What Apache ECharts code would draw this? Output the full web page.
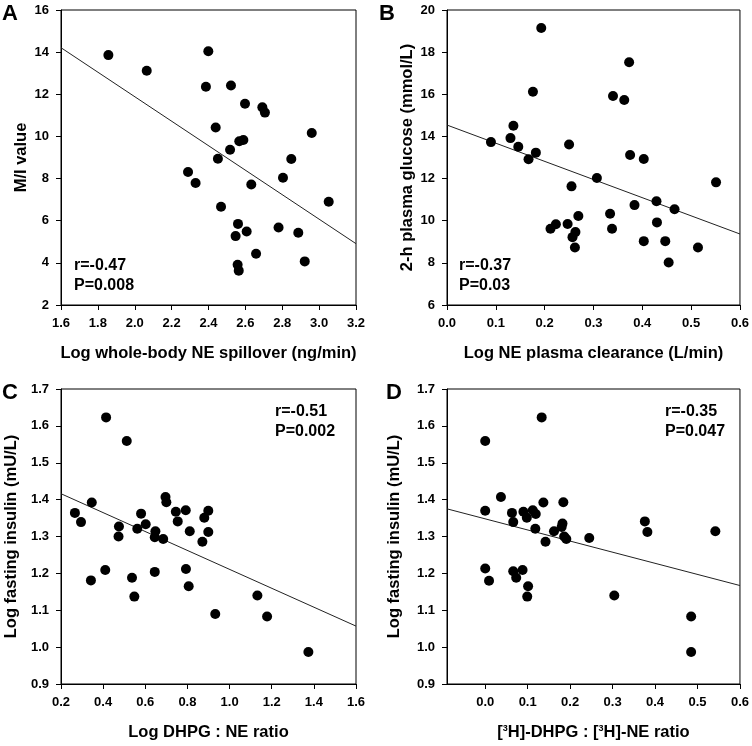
<!DOCTYPE html>
<html>
<head>
<meta charset="utf-8">
<title>NE vs insulin</title>
<script src="https://cdn.jsdelivr.net/npm/echarts@6/dist/echarts.min.js"></script>
<style>
  html, body { margin: 0; padding: 0; background: #fff; }
  #main { width: 752px; height: 746px; }
</style>
</head>
<body>
<div id="main"></div>
<script>
// panel A: log whole-body NE spillover vs M/I value
var pointsA = [
  [1.857, 13.86], [2.065, 13.12], [2.399, 14.04], [2.386, 12.36], [2.522, 12.42],
  [2.598, 11.55], [2.692, 11.38], [2.706, 11.13], [2.439, 10.42], [2.960, 10.16],
  [2.567, 9.77], [2.589, 9.83], [2.517, 9.37], [2.451, 8.94], [2.849, 8.93],
  [2.289, 8.31], [2.330, 7.79], [2.804, 8.04], [2.632, 7.72], [3.052, 6.90],
  [2.468, 6.66], [2.560, 5.85], [2.780, 5.68], [2.607, 5.49], [2.887, 5.43],
  [2.547, 5.27], [2.658, 4.43], [2.922, 4.07], [2.558, 3.91], [2.564, 3.63]
];
var fitA = [[1.6, 14.21], [3.2, 4.91]];

// panel B: log NE plasma clearance vs 2-h glucose
var pointsB = [
  [0.193, 19.15], [0.373, 17.52], [0.176, 16.12], [0.340, 15.92], [0.363, 15.73],
  [0.136, 14.51], [0.090, 13.73], [0.130, 13.92], [0.146, 13.51], [0.250, 13.62],
  [0.182, 13.23], [0.167, 12.92], [0.375, 13.12], [0.403, 12.93], [0.307, 12.03],
  [0.255, 11.63], [0.551, 11.82], [0.429, 10.92], [0.384, 10.74], [0.466, 10.54],
  [0.334, 10.33], [0.269, 10.22], [0.212, 9.62], [0.223, 9.83], [0.247, 9.84],
  [0.338, 9.62], [0.430, 9.92], [0.263, 9.46], [0.257, 9.22], [0.262, 8.73],
  [0.403, 9.03], [0.447, 9.03], [0.514, 8.73], [0.454, 8.02]
];
var fitB = [[0, 14.54], [0.6, 9.37]];

// panel C: log DHPG:NE ratio vs log fasting insulin
var pointsC = [
  [0.414, 1.623], [0.512, 1.559], [0.266, 1.364], [0.295, 1.339], [0.346, 1.392],
  [0.475, 1.327], [0.473, 1.300], [0.342, 1.181], [0.410, 1.209], [0.580, 1.362],
  [0.562, 1.321], [0.602, 1.333], [0.648, 1.314], [0.645, 1.298], [0.685, 1.293],
  [0.696, 1.407], [0.700, 1.393], [0.745, 1.367], [0.754, 1.341], [0.792, 1.371],
  [0.811, 1.314], [0.880, 1.351], [0.899, 1.370], [0.899, 1.312], [0.871, 1.286],
  [0.537, 1.188], [0.548, 1.137], [0.645, 1.204], [0.793, 1.212], [0.806, 1.165],
  [0.932, 1.090], [1.132, 1.140], [1.178, 1.083], [1.374, 0.987]
];
var fitC = [[0.2, 1.416], [1.6, 1.057]];

// panel D: [3H]-DHPG:[3H]-NE ratio vs log fasting insulin
var pointsD = [
  [0.133, 1.623], [0.000, 1.559], [0.037, 1.407], [0.000, 1.370], [0.063, 1.364],
  [0.066, 1.339], [0.090, 1.367], [0.098, 1.351], [0.112, 1.371], [0.119, 1.361],
  [0.137, 1.392], [0.118, 1.321], [0.142, 1.286], [0.162, 1.314], [0.184, 1.393],
  [0.182, 1.335], [0.180, 1.326], [0.186, 1.300], [0.191, 1.293], [0.245, 1.296],
  [0.000, 1.213], [0.009, 1.180], [0.066, 1.206], [0.073, 1.188], [0.088, 1.209],
  [0.101, 1.165], [0.099, 1.137], [0.304, 1.140], [0.376, 1.341], [0.382, 1.312],
  [0.542, 1.314], [0.485, 1.083], [0.485, 0.987]
];
var fitD = [[-0.09, 1.375], [0.6, 1.167]];
var ticksDx = [0, 0.1, 0.2, 0.3, 0.4, 0.5, 0.6];

var stats = [
  ['r=-0.47', 'P=0.008'],
  ['r=-0.37', 'P=0.03'],
  ['r=-0.51', 'P=0.002'],
  ['r=-0.35', 'P=0.047']
];

var FONT = 'Liberation Sans, Arial, sans-serif';

var grids = [
  { left: 61, top: 10, width: 295, height: 295 },
  { left: 447, top: 10, width: 295, height: 295 },
  { left: 61, top: 389, width: 295, height: 295 },
  { left: 447, top: 389, width: 295, height: 295 }
];
grids.forEach(function (g) {
  g.show = true;
  g.borderColor = '#000';
  g.borderWidth = 1;
});

function xAx(i, min, max, interval, name, gap, extra) {
  var ax = {
    gridIndex: i, type: 'value', min: min, max: max, interval: interval,
    name: name, nameLocation: 'middle', nameGap: gap,
    nameTextStyle: { fontFamily: FONT, fontWeight: 'bold', fontSize: 16.5, color: '#000' },
    axisLine: { onZero: false, lineStyle: { color: '#000', width: 1 } },
    axisTick: { show: true, inside: false, length: 5, lineStyle: { color: '#000' } },
    axisLabel: {
      margin: 12, fontFamily: FONT, fontWeight: 'bold', fontSize: 13, color: '#000',
      formatter: function (v) { return v.toFixed(1); }
    },
    splitLine: { show: false }
  };
  return Object.assign(ax, extra || {});
}

function yAx(i, min, max, interval, name, gap, digits) {
  return {
    gridIndex: i, type: 'value', min: min, max: max, interval: interval,
    name: name, nameLocation: 'middle', nameGap: gap,
    nameTextStyle: { fontFamily: FONT, fontWeight: 'bold', fontSize: 16.5, color: '#000' },
    axisLine: { onZero: false, lineStyle: { color: '#000', width: 1 } },
    axisTick: { show: true, inside: false, length: 5, lineStyle: { color: '#000' } },
    axisLabel: {
      margin: 12, fontFamily: FONT, fontWeight: 'bold', fontSize: 13, color: '#000',
      formatter: function (v) { return v.toFixed(digits); }
    },
    splitLine: { show: false }
  };
}

function scatter(i, data) {
  return {
    type: 'scatter', xAxisIndex: i, yAxisIndex: i, data: data,
    symbolSize: 10, itemStyle: { color: '#000', opacity: 1 }, silent: true, z: 3
  };
}
function fit(i, data) {
  return {
    type: 'line', xAxisIndex: i, yAxisIndex: i, data: data, symbol: 'none',
    lineStyle: { color: '#222', width: 1 }, silent: true, z: 2
  };
}

function txt(left, top, text, size) {
  return {
    type: 'text', left: left, top: top,
    style: { text: text, fontFamily: FONT, fontWeight: 'bold', fontSize: size, fill: '#000' }
  };
}

var statPos = [[74, 258], [459, 258], [275, 404], [665, 404]];
var letters = ['A', 'B', 'C', 'D'];
var letterPos = [[2, 3], [379, 3], [2, 382], [386, 382]];
var graphics = [];
for (var k = 0; k < 4; k++) {
  graphics.push(txt(statPos[k][0], statPos[k][1], stats[k][0], 16));
  graphics.push(txt(statPos[k][0], statPos[k][1] + 20, stats[k][1], 16));
  graphics.push(txt(letterPos[k][0], letterPos[k][1], letters[k], 22));
}

var option = {
  animation: false,
  backgroundColor: '#fff',
  grid: grids,
  xAxis: [
    xAx(0, 1.6, 3.2, 0.2, 'Log whole-body NE spillover (ng/min)', 40),
    xAx(1, 0, 0.6, 0.1, 'Log NE plasma clearance (L/min)', 40),
    xAx(2, 0.2, 1.6, 0.2, 'Log DHPG : NE ratio', 40),
    xAx(3, -0.09, 0.6, null, '[{sup|3}H]-DHPG : [{sup|3}H]-NE ratio', 40, {
      interval: undefined,
      axisTick: { show: true, inside: false, length: 5, customValues: ticksDx, lineStyle: { color: '#000' } },
      axisLabel: {
        margin: 12, fontFamily: FONT, fontWeight: 'bold', fontSize: 13, color: '#000',
        customValues: ticksDx,
        formatter: function (v) { return v.toFixed(1); }
      },
      nameTextStyle: {
        fontFamily: FONT, fontWeight: 'bold', fontSize: 16.5, color: '#000',
        rich: {
          sup: { fontFamily: FONT, fontWeight: 'bold', fontSize: 9, verticalAlign: 'top', padding: [0, 0, 8, 0], color: '#000' }
        }
      }
    })
  ],
  yAxis: [
    yAx(0, 2, 16, 2, 'M/I value', 31, 0),
    yAx(1, 6, 20, 2, '2-h plasma glucose (mmol/L)', 31, 0),
    yAx(2, 0.9, 1.7, 0.1, 'Log fasting insulin (mU/L)', 41, 1),
    yAx(3, 0.9, 1.7, 0.1, 'Log fasting insulin (mU/L)', 44, 1)
  ],
  series: [
    fit(0, fitA), scatter(0, pointsA),
    fit(1, fitB), scatter(1, pointsB),
    fit(2, fitC), scatter(2, pointsC),
    fit(3, fitD), scatter(3, pointsD)
  ],
  graphic: graphics
};

var chart = echarts.init(document.getElementById('main'), null, { renderer: 'canvas' });
chart.setOption(option);
</script>
</body>
</html>
